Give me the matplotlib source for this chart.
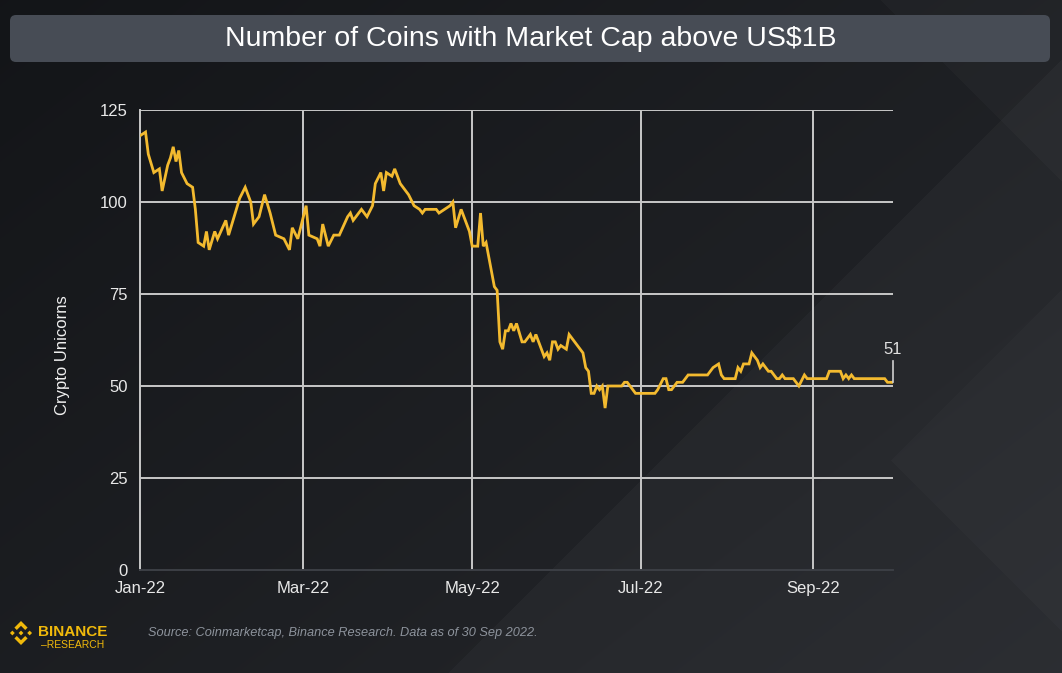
import numpy as np
import pandas as pd
import matplotlib
matplotlib.use("Agg")
import matplotlib.pyplot as plt
import matplotlib.dates as mdates
from matplotlib.patches import FancyBboxPatch, Polygon

plt.rcParams['font.family'] = ['Liberation Sans', 'DejaVu Sans']

# ---------------- data ----------------
dates = ["2022-01-01", "2022-01-03", "2022-01-04", "2022-01-06", "2022-01-08", "2022-01-09",
         "2022-01-11", "2022-01-12", "2022-01-13", "2022-01-14", "2022-01-15", "2022-01-16",
         "2022-01-18", "2022-01-20", "2022-01-21", "2022-01-22", "2022-01-24", "2022-01-25",
         "2022-01-26", "2022-01-28", "2022-01-29", "2022-02-01", "2022-02-02", "2022-02-04",
         "2022-02-06", "2022-02-08", "2022-02-10", "2022-02-11", "2022-02-13", "2022-02-15",
         "2022-02-17", "2022-02-19", "2022-02-22", "2022-02-24", "2022-02-25", "2022-02-27",
         "2022-03-01", "2022-03-02", "2022-03-03", "2022-03-06", "2022-03-07", "2022-03-08",
         "2022-03-10", "2022-03-12", "2022-03-14", "2022-03-17", "2022-03-18", "2022-03-19",
         "2022-03-22", "2022-03-24", "2022-03-26", "2022-03-27", "2022-03-29", "2022-03-30",
         "2022-03-31", "2022-04-02", "2022-04-03", "2022-04-05", "2022-04-08", "2022-04-10",
         "2022-04-12", "2022-04-13", "2022-04-14", "2022-04-18", "2022-04-19", "2022-04-21",
         "2022-04-23", "2022-04-24", "2022-04-25", "2022-04-27", "2022-04-30", "2022-05-01",
         "2022-05-03", "2022-05-04", "2022-05-05", "2022-05-06", "2022-05-07", "2022-05-09",
         "2022-05-10", "2022-05-11", "2022-05-12", "2022-05-13", "2022-05-14", "2022-05-15",
         "2022-05-16", "2022-05-17", "2022-05-19", "2022-05-20", "2022-05-22", "2022-05-23",
         "2022-05-24", "2022-05-25", "2022-05-27", "2022-05-28", "2022-05-29", "2022-05-30",
         "2022-05-31", "2022-06-01", "2022-06-02", "2022-06-04", "2022-06-05", "2022-06-07",
         "2022-06-09", "2022-06-10", "2022-06-11", "2022-06-12", "2022-06-13", "2022-06-14",
         "2022-06-15", "2022-06-16", "2022-06-17", "2022-06-18", "2022-06-19", "2022-06-24",
         "2022-06-25", "2022-06-26", "2022-06-28", "2022-06-29", "2022-07-06", "2022-07-07",
         "2022-07-09", "2022-07-10", "2022-07-11", "2022-07-12", "2022-07-14", "2022-07-16",
         "2022-07-18", "2022-07-25", "2022-07-27", "2022-07-29", "2022-07-30", "2022-07-31",
         "2022-08-04", "2022-08-05", "2022-08-06", "2022-08-07", "2022-08-09", "2022-08-10",
         "2022-08-12", "2022-08-13", "2022-08-14", "2022-08-16", "2022-08-17", "2022-08-19",
         "2022-08-20", "2022-08-21", "2022-08-22", "2022-08-25", "2022-08-27", "2022-08-29",
         "2022-08-30", "2022-08-31", "2022-09-06", "2022-09-07", "2022-09-11", "2022-09-12",
         "2022-09-13", "2022-09-14", "2022-09-15", "2022-09-16", "2022-09-27", "2022-09-28",
         "2022-09-30"]
coins = [118, 119, 113, 108, 109, 103,
         110, 112, 115, 111, 114, 108,
         105, 104, 98, 89, 88, 92,
         87, 92, 90, 95, 91, 96,
         101, 104, 100, 94, 96, 102,
         97, 91, 90, 87, 93, 90,
         96, 99, 91, 90, 88, 94,
         88, 91, 91, 96, 97, 95,
         98, 96, 99, 105, 108, 103,
         108, 107, 109, 105, 102, 99,
         98, 97, 98, 98, 97, 98,
         99, 100, 93, 98, 92, 88,
         88, 97, 88, 89, 85, 77,
         76, 62, 60, 65, 65, 67,
         65, 67, 62, 62, 64, 62,
         64, 62, 58, 59, 57, 62,
         62, 60, 61, 60, 64, 62,
         60, 59, 55, 54, 48, 48,
         50, 49, 50, 44, 50, 50,
         51, 51, 49, 48, 48, 49,
         52, 52, 49, 49, 51, 51,
         53, 53, 55, 56, 53, 52,
         52, 55, 54, 56, 56, 59,
         57, 55, 56, 54, 54, 52,
         52, 53, 52, 52, 50, 53,
         52, 52, 52, 54, 54, 52,
         53, 52, 53, 52, 52, 51,
         51]
y_ticks = [0, 25, 50, 75, 100, 125]
x_ticks = ["2022-01-01", "2022-03-01", "2022-05-01", "2022-07-01", "2022-09-01"]
title = "Number of Coins with Market Cap above US$1B"
y_label = "Crypto Unicorns"
source = "Source: Coinmarketcap, Binance Research. Data as of 30 Sep 2022."

dt = pd.to_datetime(dates)
W, H = 1062, 673

fig = plt.figure(figsize=(W / 100, H / 100), dpi=100)

# ---------------- background ----------------
bg = fig.add_axes([0, 0, 1, 1], zorder=-10)
bg.set_xlim(0, W)
bg.set_ylim(H, 0)
bg.axis('off')
xx, yy = np.meshgrid(np.arange(W), np.arange(H))
base = np.array([0.075, 0.082, 0.094])
top = np.array([0.15, 0.158, 0.175])
t = np.clip(0.55 * xx / W + 0.45 * yy / H, 0, 1)[..., None]
img = base + (top - base) * t
light = (0.022 * ((xx + yy) > 1120) + 0.018 * ((xx - yy) > 880)
         + 0.014 * ((xx - yy) > 430) * ((xx + yy) > 1350))
img = np.clip(img + light[..., None], 0, 1)
bg.imshow(img, extent=(0, W, H, 0), aspect='auto', interpolation='bilinear')

# title box
bg.add_patch(FancyBboxPatch((10, 15), 1040, 47, boxstyle="round,pad=0,rounding_size=6",
                            facecolor="#474c55", edgecolor="none"))
bg.text(531, 39, title, color="white", fontsize=20.5, ha="center", va="center")

# source + logo
bg.text(148, 633, source, color="#8d939c", fontsize=9.2, style="italic", ha="left", va="center")
yel = "#F0B90B"
cx, cy, s = 21, 633, 12
def P(pts):
    return Polygon([(cx + s * a, cy - s * b) for a, b in pts], closed=True,
                   facecolor=yel, edgecolor="none")
d = 0.2
for ox in (-0.72, 0, 0.72):
    bg.add_patch(P([(ox - d, 0), (ox, d), (ox + d, 0), (ox, -d)]))
bg.add_patch(P([(0, 1), (0.55, 0.45), (0.35, 0.25), (0, 0.6), (-0.35, 0.25), (-0.55, 0.45)]))
bg.add_patch(P([(0, -1), (0.55, -0.45), (0.35, -0.25), (0, -0.6), (-0.35, -0.25), (-0.55, -0.45)]))
bg.text(38, 636, "BINANCE", color=yel, fontsize=11, fontweight="bold", ha="left", va="baseline")
bg.text(41, 648, "\u2013RESEARCH", color=yel, fontsize=7.5, ha="left", va="baseline")

# ---------------- main axes ----------------
ax = fig.add_axes([140 / W, 1 - 570 / H, (893 - 140) / W, 460 / H])
ax.set_facecolor("none")
grid_c = "#c8c8c8"
ax.plot(dt, coins, color="#F3BA2F", lw=2.0, solid_joinstyle="miter", zorder=3)

ax.set_xlim(pd.Timestamp("2022-01-01"), pd.Timestamp("2022-09-30"))
ax.set_ylim(0, 125)
ax.set_yticks(y_ticks)
ax.set_xticks(pd.to_datetime(x_ticks))
ax.xaxis.set_major_formatter(mdates.DateFormatter("%b-%y"))
ax.tick_params(axis="both", length=0, colors="#e8e8e8", labelsize=12)
ax.tick_params(axis="y", pad=9)
ax.tick_params(axis="x", pad=8)
for yv in y_ticks[1:]:
    ax.axhline(yv, color=grid_c, lw=1.4, zorder=1)
for xv in pd.to_datetime(x_ticks[1:]):
    ax.axvline(xv, color=grid_c, lw=1.4, zorder=1)
for sp in ("top", "right"):
    ax.spines[sp].set_visible(False)
ax.spines["left"].set_color(grid_c)
ax.spines["left"].set_linewidth(1.4)
ax.spines["bottom"].set_color("#3c3f45")
ax.spines["bottom"].set_linewidth(1.4)

# end-point annotation
ax.annotate(str(coins[-1]), xy=(dt[-1], coins[-1]), xytext=(dt[-1], coins[-1] + 7),
            color="#e0e0e0", fontsize=12, ha="center", va="bottom",
            arrowprops=dict(arrowstyle="-", color="#d0d0d0", lw=1.2, shrinkA=1, shrinkB=0))

fig.text(63 / W, 1 - 355 / H, y_label, rotation=90, color="#f0f0f0", fontsize=12,
         ha="center", va="center")

fig.savefig("out.png", dpi=100, facecolor=fig.get_facecolor())
